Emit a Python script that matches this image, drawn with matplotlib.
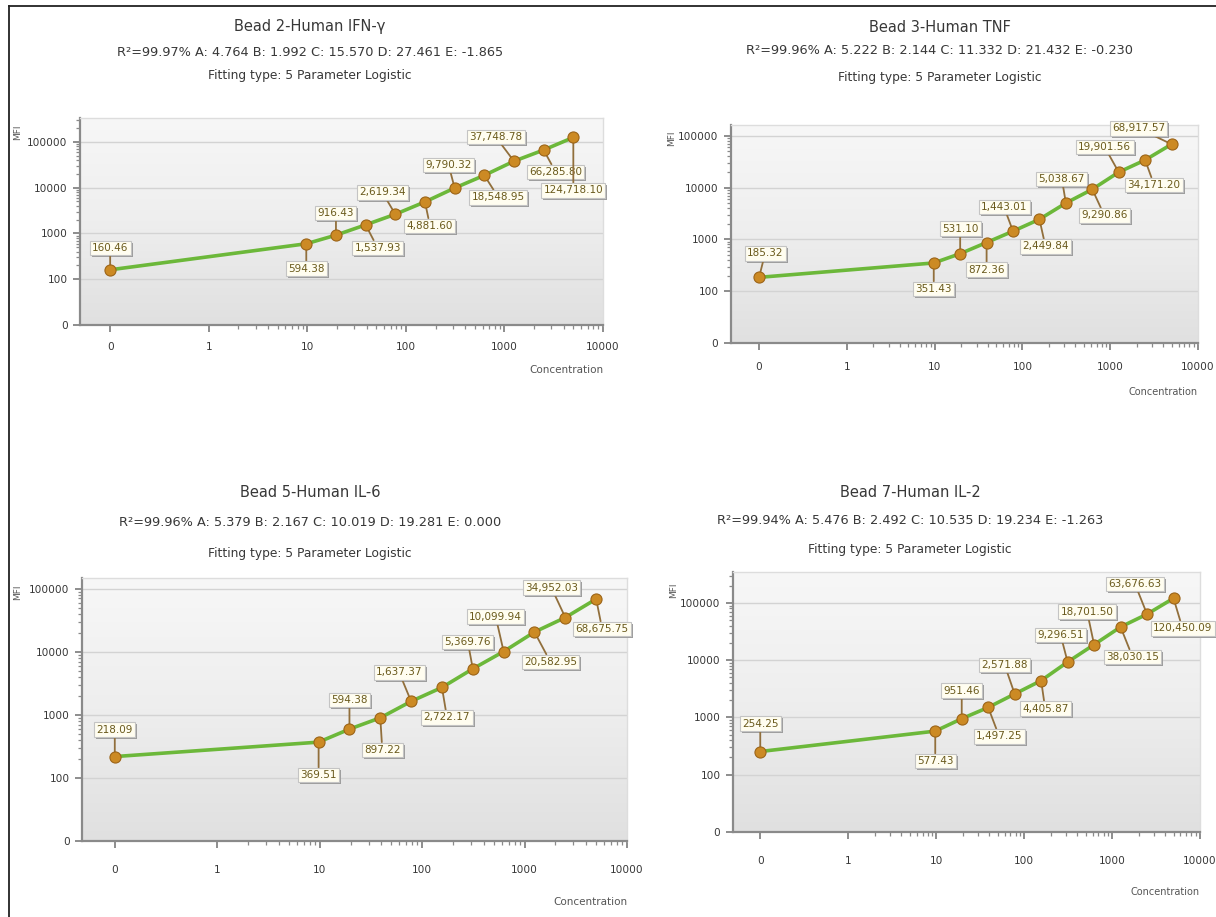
import numpy as np
import matplotlib
matplotlib.use("Agg")
import matplotlib.pyplot as plt
from matplotlib.colors import LinearSegmentedColormap
from matplotlib.lines import Line2D

# --- data ---
CONC = [0, 9.765625, 19.53125, 39.0625, 78.125, 156.25, 312.5, 625, 1250, 2500, 5000]

TITLES = ["Bead 2-Human IFN-γ", "Bead 3-Human TNF", "Bead 5-Human IL-6", "Bead 7-Human IL-2"]
FIT_PARAMS = [
    "R²=99.97% A: 4.764 B: 1.992 C: 15.570 D: 27.461 E: -1.865",
    "R²=99.96% A: 5.222 B: 2.144 C: 11.332 D: 21.432 E: -0.230",
    "R²=99.96% A: 5.379 B: 2.167 C: 10.019 D: 19.281 E: 0.000",
    "R²=99.94% A: 5.476 B: 2.492 C: 10.535 D: 19.234 E: -1.263",
]
FIT_TYPE = "Fitting type: 5 Parameter Logistic"

MFI_IFNG = [160.46, 594.38, 916.43, 1537.93, 2619.34, 4881.60, 9790.32, 18548.95, 37748.78, 66285.80, 124718.10]
MFI_TNF = [185.32, 351.43, 531.10, 872.36, 1443.01, 2449.84, 5038.67, 9290.86, 19901.56, 34171.20, 68917.57]
MFI_IL6 = [218.09, 369.51, 594.38, 897.22, 1637.37, 2722.17, 5369.76, 10099.94, 20582.95, 34952.03, 68675.75]
MFI_IL2 = [254.25, 577.43, 951.46, 1497.25, 2571.88, 4405.87, 9296.51, 18701.50, 38030.15, 63676.63, 120450.09]
SERIES = [MFI_IFNG, MFI_TNF, MFI_IL6, MFI_IL2]

X_TICKS = [0.1, 1, 10, 100, 1000, 10000]      # "0" sits one decade below 1
X_TICK_LABELS = ["0", "1", "10", "100", "1000", "10000"]
Y_TICKS = [10, 100, 1000, 10000, 100000]      # "0" sits one decade below 100
Y_TICK_LABELS = ["0", "100", "1000", "10000", "100000"]

# --- layout (pixels, top-left origin) ---
W, H = 1216, 917
# axes box: left, right, top, bottom ; x decade at left edge ; y decade at top edge
PANELS = [
    dict(box=(80, 603, 118, 325), xl=-1.306, yt=5.52, cx=310, ty=(27, 52, 76),
         mfi=(18, 132), conc=(603, 370), xpad=7, csize=7.5),
    dict(box=(731, 1198, 125, 343), xl=-1.32, yt=5.21, cx=940, ty=(27, 51, 77),
         mfi=(672, 138), conc=(1198, 392), xpad=9, csize=7),
    dict(box=(82, 627, 578, 841), xl=-1.32, yt=5.17, cx=310, ty=(493, 523, 553),
         mfi=(18, 592), conc=(627, 902), xpad=12, csize=7.5),
    dict(box=(733, 1200, 572, 832), xl=-1.31, yt=5.54, cx=910, ty=(493, 521, 549),
         mfi=(674, 590), conc=(1200, 892), xpad=12, csize=7),
]

# label offsets from each point (pixels, +y up)
OFFSETS = [
    [(0, 22), (0, -25), (0, 22), (12, -23), (-13, 22), (5, -24), (-6, 23), (14, -22), (-18, 24), (12, -22), (0, -53)],
    [(6, 24), (0, -26), (0, 25), (0, -27), (-9, 24), (6, -27), (-4, 24), (12, -26), (-14, 25), (9, -25), (-33, 16)],
    [(0, 27), (0, -33), (0, 29), (2, -32), (-12, 29), (5, -30), (-5, 27), (-8, 35), (16, -30), (-14, 30), (6, -30)],
    [(0, 28), (0, -30), (0, 28), (11, -29), (-10, 29), (4, -28), (-7, 27), (-7, 33), (12, -30), (-12, 30), (9, -30)],
]

plt.rcParams["font.family"] = ["DejaVu Sans"]

LINE_GREEN = "#6cb83a"
DOT_FACE = "#cc8a24"
DOT_EDGE = "#9c6418"
LBL_TEXT = "#6a5a1c"
LEADER = "#916f3c"
TXT = "#383838"

bg = LinearSegmentedColormap.from_list("bg", ["#e0e0e0", "#eeeeee", "#f7f7f7"])


def fx(px):
    return px / W


def fy(py):
    return 1 - py / H


fig = plt.figure(figsize=(W / 100, H / 100), dpi=100)
fig.patch.set_facecolor("white")

# outer frame of the screenshot
fig.add_artist(Line2D([fx(9), fx(9)], [0, fy(6)], color="#222222", lw=1.3))
fig.add_artist(Line2D([fx(9), 1], [fy(6), fy(6)], color="#222222", lw=1.3))

for i, p in enumerate(PANELS):
    l, r, t, b = p["box"]
    ax = fig.add_axes([fx(l), fy(b), fx(r - l), (b - t) / H])
    ax.set_xscale("log")
    ax.set_yscale("log")

    grad = np.linspace(0, 1, 256).reshape(-1, 1)
    ax.imshow(grad, extent=[0, 1, 0, 1], transform=ax.transAxes, cmap=bg,
              aspect="auto", origin="lower", zorder=0)

    ax.set_xlim(10 ** p["xl"], 10 ** 4)
    ax.set_ylim(10, 10 ** p["yt"])

    ax.set_xticks(X_TICKS)
    ax.set_xticklabels(X_TICK_LABELS)
    ax.set_yticks(Y_TICKS)
    ax.set_yticklabels(Y_TICK_LABELS)
    xmin = [m * 10 ** k for k in range(0, 4) for m in range(2, 10)]
    ymin = [m * 10 ** k for k in range(2, 6) for m in range(2, 10) if m * 10 ** k < 10 ** p["yt"]]
    ax.set_xticks(xmin, minor=True)
    ax.set_yticks(ymin, minor=True)
    ax.tick_params(which="major", direction="out", length=5, width=1.2, color="#7a7a7a",
                   labelsize=7.6, labelcolor=TXT)
    ax.tick_params(which="minor", direction="out", length=3, width=0.9, color="#8a8a8a")
    ax.tick_params(axis="x", which="major", pad=p["xpad"])
    ax.tick_params(axis="y", which="major", pad=4)
    ax.yaxis.grid(True, which="major", color="#d3d3d3", lw=1.0, zorder=1)

    for s in ("left", "bottom"):
        ax.spines[s].set_color("#8a8a8a")
        ax.spines[s].set_linewidth(1.6)
    for s in ("top", "right"):
        ax.spines[s].set_color("#dddddd")
        ax.spines[s].set_linewidth(1.0)

    xs = np.where(np.array(CONC) == 0, 0.1, CONC)
    ys = np.array(SERIES[i])
    ax.plot(xs, ys, color=LINE_GREEN, lw=2.6, zorder=3, solid_capstyle="round")
    ax.plot(xs, ys, "o", ms=8, mfc=DOT_FACE, mec=DOT_EDGE, mew=0.8, zorder=6)

    for (xv, yv, (dx, dy)) in zip(xs, ys, OFFSETS[i]):
        lbl = f"{yv:,.2f}"
        # shadow box
        ax.annotate(lbl, xy=(xv, yv), xytext=(dx + 2, dy - 2), textcoords="offset pixels",
                    ha="center", va="center", fontsize=7.5, color=(0, 0, 0, 0),
                    bbox=dict(boxstyle="square,pad=0.22", fc="#9d9d9d", ec="none"),
                    zorder=4, annotation_clip=False)
        ax.annotate(lbl, xy=(xv, yv), xytext=(dx, dy), textcoords="offset pixels",
                    ha="center", va="center", fontsize=7.5, color=LBL_TEXT,
                    bbox=dict(boxstyle="square,pad=0.22", fc="#fffdf0", ec="#c4c4c4", lw=0.8),
                    arrowprops=dict(arrowstyle="-", color=LEADER, lw=1.3,
                                    shrinkA=0, shrinkB=0),
                    zorder=5, annotation_clip=False)

    cx = fx(p["cx"])
    fig.text(cx, fy(p["ty"][0]), TITLES[i], ha="center", va="center", fontsize=10.5, color=TXT)
    fig.text(cx, fy(p["ty"][1]), FIT_PARAMS[i], ha="center", va="center", fontsize=9.3, color=TXT)
    fig.text(cx, fy(p["ty"][2]), FIT_TYPE, ha="center", va="center", fontsize=8.8, color=TXT)
    fig.text(fx(p["mfi"][0]), fy(p["mfi"][1]), "MFI", rotation=90, ha="center", va="center",
             fontsize=6.5, color="#555555")
    fig.text(fx(p["conc"][0]), fy(p["conc"][1]), "Concentration", ha="right", va="center",
             fontsize=p["csize"], color="#555555")

fig.savefig("out.png", dpi=100)
